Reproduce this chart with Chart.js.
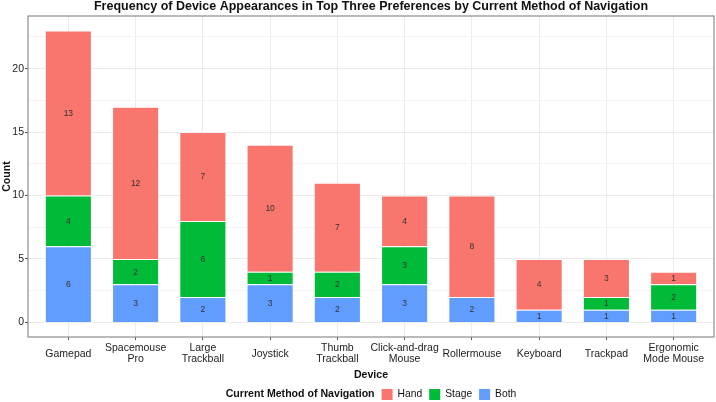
<!DOCTYPE html>
<html>
<head>
<meta charset="utf-8">
<script src="https://cdn.jsdelivr.net/npm/chart.js@4.4.1/dist/chart.umd.min.js"></script>
<style>
  body { margin: 0; background: #fff; }
</style>
</head>
<body>
<canvas id="myChart" width="716" height="402"></canvas>
<script>
const devices = [
    ['Gamepad'], ['Spacemouse', 'Pro'], ['Large', 'Trackball'], ['Joystick'],
    ['Thumb', 'Trackball'], ['Click-and-drag', 'Mouse'], ['Rollermouse'],
    ['Keyboard'], ['Trackpad'], ['Ergonomic', 'Mode Mouse']
];
const both  = [6, 3, 2, 3, 2, 3, 2, 1, 1, 1];
const stage = [4, 2, 6, 1, 2, 3, 0, 0, 1, 2];
const hand  = [13, 12, 7, 10, 7, 4, 8, 4, 3, 1];
const yTicks = [0, 5, 10, 15, 20];

const FONT = "'Liberation Sans', Arial, sans-serif";

// bottom -> top stacking order: Both, Stage, Hand
const series = [
    { label: 'Both', values: both, color: '#619CFF' },
    { label: 'Stage', values: stage, color: '#00BA38' },
    { label: 'Hand', values: hand, color: '#F8766D' }
];

// numbers printed in the middle of each segment
const segmentLabels = {
    id: 'segmentLabels',
    afterDatasetsDraw(chart) {
        const ctx = chart.ctx;
        ctx.save();
        ctx.font = '8.5px ' + FONT;
        ctx.fillStyle = '#333';
        ctx.textAlign = 'center';
        ctx.textBaseline = 'middle';
        series.forEach((s, i) => {
            chart.getDatasetMeta(i).data.forEach((bar, j) => {
                const v = s.values[j];
                if (!v) return;
                const p = bar.getProps(['x', 'y', 'base'], true);
                ctx.fillText(String(v), p.x, (p.y + p.base) / 2 + 0.5);
            });
        });
        ctx.restore();
    }
};

// titles, panel border and the inline legend
const decorations = {
    id: 'decorations',
    afterDraw(chart) {
        const ctx = chart.ctx;
        const a = chart.chartArea;
        const cx = (a.left + a.right) / 2;
        ctx.save();

        // panel border
        ctx.strokeStyle = '#8c8c8c';
        ctx.lineWidth = 1.2;
        ctx.strokeRect(a.left, a.top, a.right - a.left, a.bottom - a.top);

        ctx.fillStyle = '#111';
        ctx.textAlign = 'center';
        ctx.textBaseline = 'middle';

        ctx.font = 'bold 12.5px ' + FONT;
        ctx.fillText('Frequency of Device Appearances in Top Three Preferences by Current Method of Navigation', cx, 6.5);

        ctx.font = 'bold 10.6px ' + FONT;
        ctx.fillText('Device', cx, 375);

        ctx.save();
        ctx.translate(7.5, (a.top + a.bottom) / 2);
        ctx.rotate(-Math.PI / 2);
        ctx.fillText('Count', 0, 0);
        ctx.restore();

        // legend: title then Hand, Stage, Both
        const legendTitle = 'Current Method of Navigation';
        const items = series.slice().reverse();
        const box = 11, gapText = 5, gapItem = 7;
        ctx.font = 'bold 10.6px ' + FONT;
        const titleW = ctx.measureText(legendTitle).width;
        ctx.font = '10.3px ' + FONT;
        const widths = items.map(it => ctx.measureText(it.label).width);
        let total = titleW;
        widths.forEach(w => { total += gapItem + box + gapText + w; });
        let x = cx - total / 2;
        const ly = 394.5;
        ctx.textAlign = 'left';
        ctx.font = 'bold 10.6px ' + FONT;
        ctx.fillText(legendTitle, x, ly);
        x += titleW;
        ctx.font = '10.3px ' + FONT;
        items.forEach((it, k) => {
            x += gapItem;
            ctx.fillStyle = it.color;
            ctx.fillRect(x, ly - box / 2, box, box);
            x += box + gapText;
            ctx.fillStyle = '#111';
            ctx.fillText(it.label, x, ly);
            x += widths[k];
        });
        ctx.restore();
    }
};

const ctx = document.getElementById('myChart').getContext('2d');
const myChart = new Chart(ctx, {
    type: 'bar',
    data: {
        datasets: series.map(s => ({
            label: s.label,
            data: s.values.map((v, i) => ({ x: i + 1, y: v === 0 ? null : v })),
            backgroundColor: s.color,
            borderColor: 'rgba(255,255,255,0.35)',
            borderWidth: 1,
            barPercentage: 0.7,
            categoryPercentage: 1
        }))
    },
    options: {
        responsive: false,
        animation: false,
        layout: { padding: { top: 16, right: 2, left: 0, bottom: 0 } },
        scales: {
            x: {
                type: 'linear',
                stacked: true,
                min: 0.4,
                max: 10.6,
                bounds: 'data',
                offset: false,
                afterBuildTicks: axis => { axis.ticks = devices.map((d, i) => ({ value: i + 1 })); },
                afterFit: scale => { scale.height = 65; },
                border: { display: false },
                grid: {
                    offset: false,
                    color: '#EBEBEB',
                    tickColor: '#555',
                    tickLength: 3
                },
                ticks: {
                    autoSkip: false,
                    maxRotation: 0,
                    crossAlign: 'center',
                    padding: 8,
                    color: '#222',
                    font: { family: FONT, size: 10.5, lineHeight: 1.1 },
                    callback: value => devices[Math.round(value) - 1]
                }
            },
            y: {
                stacked: true,
                min: -1.15,
                max: 24.15,
                bounds: 'data',
                afterBuildTicks: axis => {
                    const t = [];
                    for (let v = 0; v <= 22.5; v += 2.5) t.push({ value: v });
                    axis.ticks = t;
                },
                afterFit: scale => { scale.width = 28; },
                border: { display: false },
                grid: {
                    color: c => yTicks.includes(c.tick.value) ? '#EBEBEB' : '#F4F4F4',
                    tickColor: c => yTicks.includes(c.tick.value) ? '#555' : 'rgba(0,0,0,0)',
                    tickLength: 3
                },
                ticks: {
                    padding: 1,
                    color: '#222',
                    font: { family: FONT, size: 10.5 },
                    callback: value => yTicks.includes(value) ? String(value) : ''
                }
            }
        },
        plugins: {
            legend: { display: false },
            tooltip: { enabled: false },
            title: { display: false }
        }
    },
    plugins: [segmentLabels, decorations]
});
</script>
</body>
</html>
